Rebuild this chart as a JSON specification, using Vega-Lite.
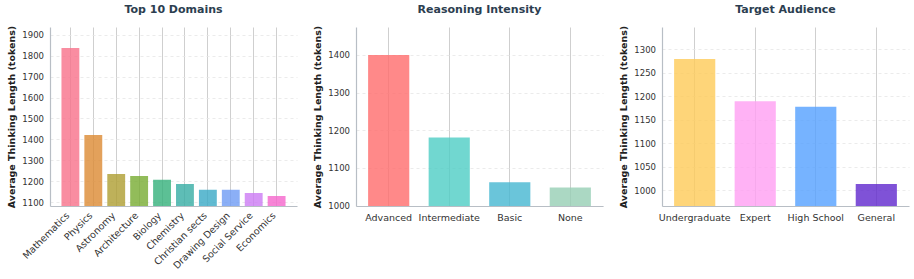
{
  "$schema": "https://vega.github.io/schema/vega-lite/v6.json",
  "background": "white",
  "padding": {"left": 6, "top": 4, "right": 4, "bottom": 4},
  "spacing": 15,
  "resolve": {"scale": {"color": "independent"}},
  "config": {
    "font": "DejaVu Sans",
    "view": {"stroke": null},
    "title": {"fontSize": 11, "fontWeight": "bold", "color": "#2c3e50", "offset": 10, "anchor": "middle", "font": "DejaVu Sans"},
    "axis": {
      "labelFont": "DejaVu Sans",
      "titleFont": "DejaVu Sans",
      "labelColor": "#333333",
      "titleColor": "#222222",
      "domainColor": "#b8bec5",
      "domainWidth": 1.2,
      "ticks": false
    },
    "axisY": {
      "labelFontSize": 8.5,
      "labelPadding": 6.5,
      "titleFontSize": 9.5,
      "titleFontWeight": "bold",
      "titlePadding": 5,
      "format": "d",
      "grid": true,
      "gridColor": "#e6e6e6",
      "gridDash": [3, 3],
      "gridWidth": 0.8
    },
    "axisX": {
      "labelFontSize": 9.5,
      "grid": true,
      "gridColor": "#cfcfcf",
      "gridWidth": 1,
      "bandPosition": 0.5
    }
  },
  "datasets": {
    "domains": [
      {"category": "Mathematics", "value": 1838},
      {"category": "Physics", "value": 1421},
      {"category": "Astronomy", "value": 1234},
      {"category": "Architecture", "value": 1225},
      {"category": "Biology", "value": 1207},
      {"category": "Chemistry", "value": 1186},
      {"category": "Christian sects", "value": 1159},
      {"category": "Drawing Design", "value": 1159},
      {"category": "Social Service", "value": 1143},
      {"category": "Economics", "value": 1129}
    ],
    "reasoning": [
      {"category": "Advanced", "value": 1400},
      {"category": "Intermediate", "value": 1181},
      {"category": "Basic", "value": 1062},
      {"category": "None", "value": 1048}
    ],
    "audience": [
      {"category": "Undergraduate", "value": 1279},
      {"category": "Expert", "value": 1189},
      {"category": "High School", "value": 1177},
      {"category": "General", "value": 1013}
    ]
  },
  "hconcat": [
    {
      "title": "Top 10 Domains",
      "width": 247,
      "height": 179,
      "data": {"name": "domains"},
      "mark": {"type": "bar", "opacity": 0.8, "clip": true},
      "encoding": {
        "x": {
          "field": "category",
          "type": "nominal",
          "sort": null,
          "scale": {"paddingInner": 0.22, "paddingOuter": 0.5},
          "axis": {"title": null, "labelAngle": -45, "labelAlign": "right", "labelBaseline": "top", "labelPadding": 4, "labelOffset": -6}
        },
        "y": {
          "field": "value",
          "type": "quantitative",
          "scale": {"domain": [1081, 1938], "nice": false, "zero": false},
          "axis": {"title": "Average Thinking Length (tokens)", "tickCount": 10}
        },
        "color": {
          "field": "category",
          "type": "nominal",
          "sort": null,
          "legend": null,
          "scale": {
            "domain": ["Mathematics", "Physics", "Astronomy", "Architecture", "Biology", "Chemistry", "Christian sects", "Drawing Design", "Social Service", "Economics"],
            "range": ["#f77189", "#dc8932", "#ae9d31", "#77ab31", "#33b07a", "#36ada4", "#38a9c5", "#6e9bf4", "#cc7af4", "#f565cc"]
          }
        }
      }
    },
    {
      "title": "Reasoning Intensity",
      "width": 247,
      "height": 179,
      "data": {"name": "reasoning"},
      "mark": {"type": "bar", "opacity": 0.8, "clip": true},
      "encoding": {
        "x": {
          "field": "category",
          "type": "nominal",
          "sort": null,
          "scale": {"paddingInner": 0.32, "paddingOuter": 0.2},
          "axis": {"title": null, "labelAngle": 0, "labelPadding": 6}
        },
        "y": {
          "field": "value",
          "type": "quantitative",
          "scale": {"domain": [999, 1474], "nice": false, "zero": false},
          "axis": {"title": "Average Thinking Length (tokens)", "tickCount": 5}
        },
        "color": {
          "field": "category",
          "type": "nominal",
          "sort": null,
          "legend": null,
          "scale": {
            "domain": ["Advanced", "Intermediate", "Basic", "None"],
            "range": ["#FF6B6B", "#4ECDC4", "#45B7D1", "#96CEB4"]
          }
        }
      }
    },
    {
      "title": "Target Audience",
      "width": 247,
      "height": 179,
      "data": {"name": "audience"},
      "mark": {"type": "bar", "opacity": 0.8, "clip": true},
      "encoding": {
        "x": {
          "field": "category",
          "type": "nominal",
          "sort": null,
          "scale": {"paddingInner": 0.32, "paddingOuter": 0.2},
          "axis": {"title": null, "labelAngle": 0, "labelPadding": 6}
        },
        "y": {
          "field": "value",
          "type": "quantitative",
          "scale": {"domain": [966, 1347], "nice": false, "zero": false},
          "axis": {"title": "Average Thinking Length (tokens)", "tickCount": 8}
        },
        "color": {
          "field": "category",
          "type": "nominal",
          "sort": null,
          "legend": null,
          "scale": {
            "domain": ["Undergraduate", "Expert", "High School", "General"],
            "range": ["#FECA57", "#FF9FF3", "#54A0FF", "#5F27CD"]
          }
        }
      }
    }
  ]
}
